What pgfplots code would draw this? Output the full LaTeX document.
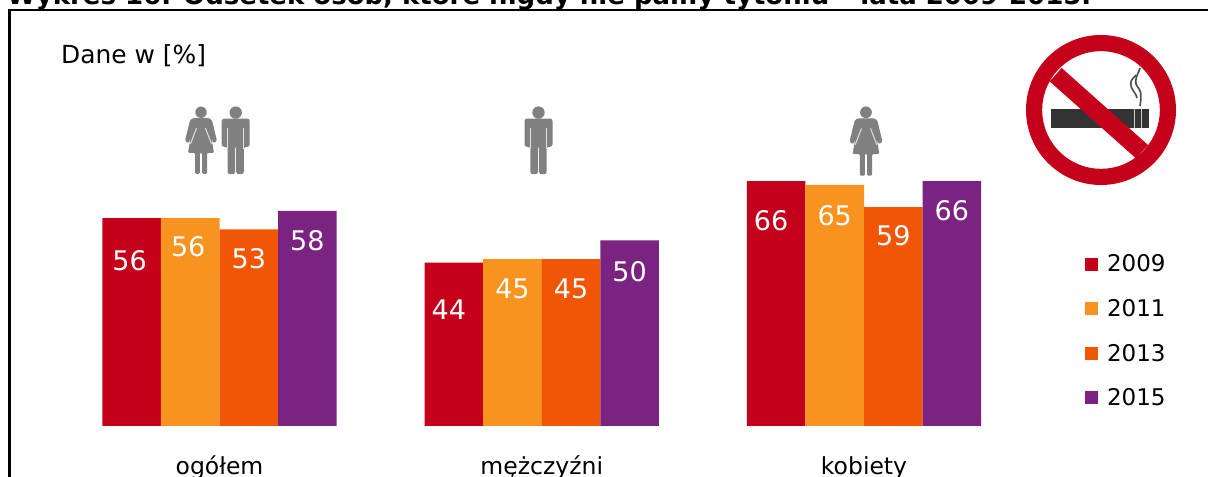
\documentclass[border=0pt]{standalone}
\usepackage{fontspec}
\setmainfont{DejaVu Sans}
\usepackage{pgfplots}
\usepackage{pgfplotstable}
\pgfplotsset{compat=1.18}
\definecolor{cA}{HTML}{C4001A}
\definecolor{cB}{HTML}{F7931E}
\definecolor{cC}{HTML}{F15606}
\definecolor{cD}{HTML}{7A2380}
\definecolor{icon}{HTML}{808080}
\pgfplotstableread{
x y off xo
0 56 42 -2
1 44 47 -5
2 66 40 -5
}\tA
\pgfplotstableread{
x y off xo
0 56 28 -2
1 45 30 0
2 65 31 0
}\tB
\pgfplotstableread{
x y off xo
0 53 29 0
1 45 30 0
2 59 29 0
}\tC
\pgfplotstableread{
x y off xo
0 58 30 0
1 50 31 0
2 66 30 0
}\tD
\newcommand{\man}[3]{% cx, y of head centre, scale
\begin{scope}[shift={(#1,#2)},scale=#3]
\fill[icon] (0,0) circle (6.2);
\fill[icon,rounded corners=2.5] (-14,25) -- (-14,6) -- (14,6) -- (14,34.2) -- (8.2,34.2) -- (8.2,61.6) -- (0.5,61.6) -- (0.5,33) -- (-0.5,33) -- (-0.5,61.6) -- (-8.2,61.6) -- (-8.2,34.2) -- (-14,34.2) -- cycle;
\draw[white!75!icon,line width=1bp] (-8,15) -- (-8,36) (8,15) -- (8,36);
\end{scope}}
\newcommand{\woman}[3]{%
\begin{scope}[shift={(#1,#2)},scale=#3]
\fill[icon] (0,0) circle (5.7);
\fill[icon,rounded corners=1.2] (-8,5.8) -- (8,5.8) -- (11,8) -- (16,28.5) -- (12.6,31) -- (10.5,26) -- (13,40.5) -- (6,40.5) -- (6,61.6) -- (1.2,61.6) -- (1.2,40.5) -- (-1.2,40.5) -- (-1.2,61.6) -- (-6,61.6) -- (-6,40.5) -- (-13,40.5) -- (-10.5,26) -- (-12.6,31) -- (-16,28.5) -- (-11,8) -- cycle;
\draw[white!75!icon,line width=1bp] (-4.4,15.7) -- (-10.5,31.5) (4.4,15.7) -- (10.5,31.5);
\end{scope}}
\begin{document}
\begin{tikzpicture}[x=1bp,y=1bp]
\useasboundingbox (0,0) rectangle (1208,477);
\begin{axis}[
  at={(0,0)}, anchor=south west,
  yshift=51bp,
  width=1208bp, height=426bp, scale only axis,
  xmin=-0.68115, xmax=3.06749, ymin=0, ymax=114.82,
  axis line style={draw=none}, major tick length=0pt,
  ytick=\empty, xtick={0,1,2},
  xticklabels={ogółem,mężczyźni,kobiety},
  xticklabel style={font=\fontsize{23.5bp}{28bp}\selectfont, anchor=base, yshift=-49bp, text height=1em},
  /pgf/number format/assume math mode=true,
  ybar=0pt, bar width=58.6bp,
  clip=false,
  visualization depends on={\thisrow{off} \as \off},
  visualization depends on={\thisrow{xo} \as \xo},
  nodes near coords,
  nodes near coords style={font=\fontsize{27bp}{32bp}\selectfont, text=white, anchor=center, yshift=-\off bp, xshift=\xo bp},
  legend style={at={(1085/1208,0.223)}, anchor=west, draw=none, fill=none, inner sep=0pt, outer sep=0pt,
    font=\fontsize{23bp}{28bp}\selectfont, row sep=22.1bp,
    /tikz/every odd column/.style={column sep=7bp}},
  legend cell align=left,
]
\addplot[fill=cA, draw=none, legend image code/.code={\fill[cA] (0,-6.5bp) rectangle (13bp,6.5bp);}] table[x=x,y=y] {\tA};
\addplot[fill=cB, draw=none, legend image code/.code={\fill[cB] (0,-6.5bp) rectangle (13bp,6.5bp);}] table[x=x,y=y] {\tB};
\addplot[fill=cC, draw=none, legend image code/.code={\fill[cC] (0,-6.5bp) rectangle (13bp,6.5bp);}] table[x=x,y=y] {\tC};
\addplot[fill=cD, draw=none, legend image code/.code={\fill[cD] (0,-6.5bp) rectangle (13bp,6.5bp);}] table[x=x,y=y] {\tD};
\legend{2009,2011,2013,2015}
\end{axis}
\begin{scope}[shift={(0,477)},x=1bp,y=-1bp]
  % title and frame
  \begin{scope}
    \clip (0,0) rectangle (1208,9);
    \node[anchor=base west,inner sep=0pt,font=\fontsize{26bp}{30bp}\selectfont\bfseries] at (7,5) {Wykres 16. Odsetek osób, które nigdy nie paliły tytoniu – lata 2009-2015.};
  \end{scope}
  \draw[black,line width=2.2bp] (9.5,477) -- (9.5,10) -- (1208,10);
  \node[anchor=base west,inner sep=0pt,font=\fontsize{24.9bp}{28bp}\selectfont] at (61,64) {Dane w [\%]};
  % pictograms
  \woman{201}{112.3}{1}
  \man{235.7}{112.6}{1}
  \man{538.5}{112.6}{1}
  \woman{866}{112.3}{1.03}
  % no smoking sign
  \fill[black!80] (1051,109) rectangle (1148.7,128);
  \draw[white!80!black,line width=1bp] (1134.3,109) -- (1134.3,128) (1141,109) -- (1141,128);
  \draw[black!70,line width=1.6bp] (1140,106) .. controls (1141,100) and (1141,97) .. (1140.7,93) .. controls (1140,88) and (1135,86) .. (1135.7,81) .. controls (1136,76) and (1139,72) .. (1140,68);
  \draw[black!70,line width=1.6bp] (1137,98) .. controls (1137,94) and (1130,89) .. (1130.7,83) .. controls (1131,79) and (1135,77) .. (1136,75);
  \draw[cA,line width=16.2bp] (1101,110) circle (66.9);
  \draw[cA,line width=18bp] (1055.7,74.7) -- (1142,151.7);
\end{scope}
\end{tikzpicture}
\end{document}
